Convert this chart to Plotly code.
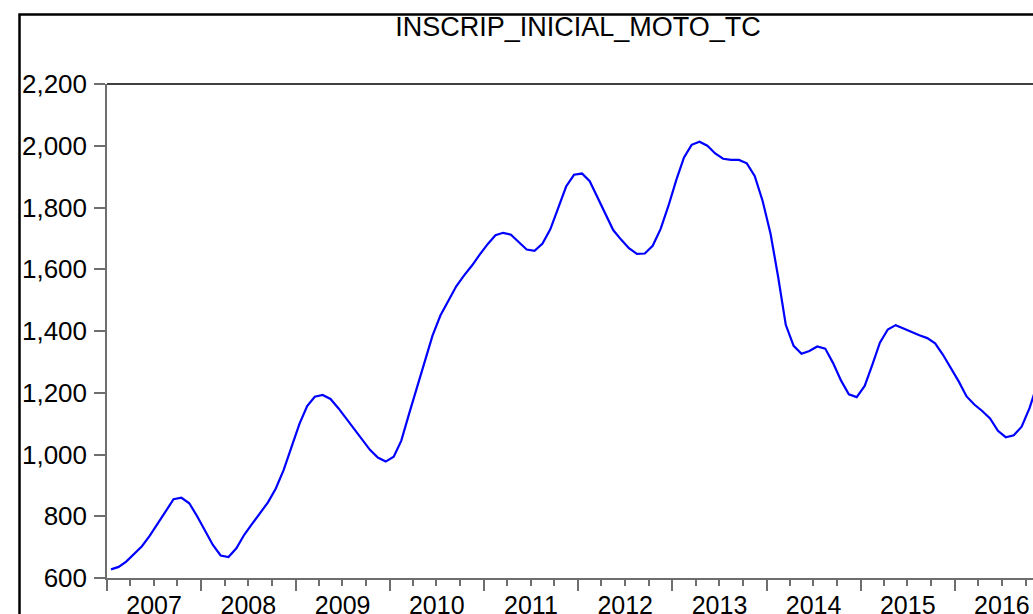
import pandas as pd
import plotly.graph_objects as go

# monthly values
v2007 = [628, 636, 653, 677, 703, 737, 775, 815, 855, 860, 842, 800]
v2008 = [755, 707, 673, 668, 696, 740, 775, 810, 845, 890, 950, 1025]
v2009 = [1100, 1157, 1187, 1193, 1180, 1150, 1116, 1083, 1048, 1015, 990, 977]
v2010 = [993, 1045, 1130, 1215, 1300, 1385, 1450, 1500, 1545, 1580, 1612, 1648]
v2011 = [1682, 1710, 1718, 1712, 1687, 1664, 1660, 1683, 1730, 1800, 1868, 1906]
v2012 = [1910, 1885, 1832, 1778, 1727, 1696, 1668, 1650, 1651, 1676, 1730, 1805]
v2013 = [1890, 1962, 2003, 2013, 2000, 1975, 1958, 1954, 1954, 1943, 1902, 1822]
v2014 = [1715, 1575, 1420, 1352, 1326, 1335, 1350, 1343, 1296, 1240, 1195, 1186]
v2015 = [1222, 1290, 1362, 1405, 1419, 1408, 1396, 1386, 1377, 1360, 1323, 1280]
v2016 = [1236, 1188, 1162, 1141, 1117, 1077, 1056, 1062, 1090, 1150, 1230]

values = v2007 + v2008 + v2009 + v2010 + v2011 + v2012 + v2013 + v2014 + v2015 + v2016
months = pd.date_range("2007-01-01", periods=len(values), freq="MS")

y_ticks = [600, 800, 1000, 1200, 1400, 1600, 1800, 2000, 2200]

W, H = 1033, 614
L, T, B = 107, 84, 36
FONT = "Liberation Sans, Arial, sans-serif"
AXCOL = "#6e6e6e"

def px_x(p):
    # pixel -> paper x
    return (p - L) / (W - L)

def px_y(p):
    # pixel -> paper y
    return (H - B - p) / (H - B - T)

fig = go.Figure()
fig.add_trace(go.Scatter(
    x=months, y=values,
    xperiod="M1", xperiodalignment="middle",
    mode="lines",
    line=dict(color="#0000ff", width=2.2),
    hoverinfo="x+y",
))

# outer frame (cut off at right and bottom like the screenshot)
fig.add_shape(type="rect", xref="paper", yref="paper",
              x0=px_x(19.5), x1=1.3, y0=-0.5, y1=px_y(14.5),
              line=dict(color="black", width=2.5), layer="above")
# top border of plot area
fig.add_shape(type="line", xref="paper", yref="paper",
              x0=0, x1=1.1, y0=1, y1=1,
              line=dict(color="black", width=1.5), layer="above")

fig.update_layout(
    width=W, height=H,
    margin=dict(l=L, r=0, t=T, b=B, autoexpand=False),
    paper_bgcolor="white", plot_bgcolor="white",
    showlegend=False,
    font=dict(family=FONT, color="black"),
    title=dict(text="INSCRIP_INICIAL_MOTO_TC",
               font=dict(family=FONT, size=27, color="black"),
               xref="container", x=578 / W, xanchor="center",
               yref="container", y=1 - 27 / H, yanchor="middle"),
)

fig.update_xaxes(
    type="date",
    range=["2007-01-01", "2016-10-30"],
    tick0="2007-01-01", dtick="M12", tickformat="%Y",
    ticklabelmode="period",
    ticks="outside", ticklen=11, tickwidth=1.5, tickcolor=AXCOL,
    ticklabelstandoff=-7,
    minor=dict(dtick="M3", ticks="outside", ticklen=6, tickwidth=1.5,
               tickcolor=AXCOL, showgrid=False),
    showline=True, linecolor=AXCOL, linewidth=1.5,
    showgrid=False, zeroline=False, automargin=False,
    tickfont=dict(family=FONT, size=25, color="black"),
)

fig.update_yaxes(
    range=[600, 2200],
    tickvals=y_ticks, tickformat=",",
    ticks="outside", ticklen=11, tickwidth=1.5, tickcolor=AXCOL,
    ticklabelstandoff=2,
    showline=True, linecolor=AXCOL, linewidth=1.5,
    showgrid=False, zeroline=False, automargin=False,
    tickfont=dict(family=FONT, size=26, color="black"),
)

fig.write_html(
    "out.html",
    config={"displayModeBar": False},
    post_script="document.body.style.margin='0';document.body.style.overflow='hidden';",
)
